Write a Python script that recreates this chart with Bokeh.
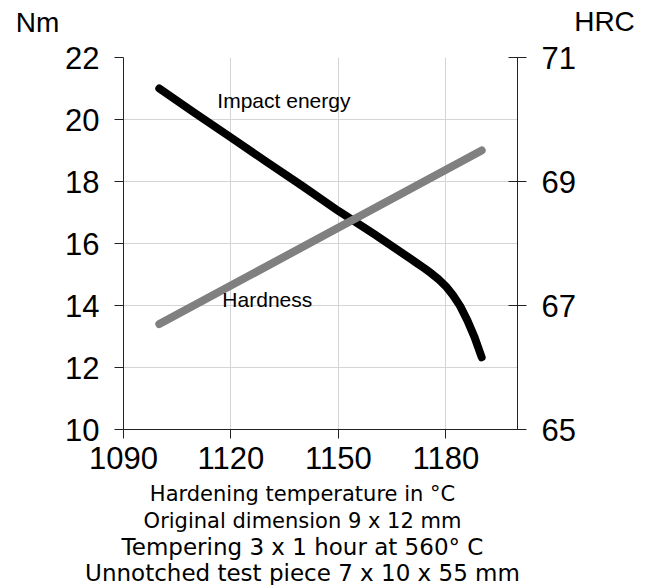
from bokeh.plotting import figure
from bokeh.models import Range1d, LinearAxis, FixedTicker, Label
from bokeh.layouts import column
from bokeh.core.properties import value
from bokeh.embed import file_html
from bokeh.resources import INLINE

# Data
temp_impact = [1100, 1110, 1120, 1130, 1140, 1150, 1160, 1170, 1172, 1174, 1176, 1178,
               1180, 1182, 1184, 1186, 1188, 1190]
impact_energy = [21.0, 20.2, 19.42, 18.63, 17.85, 17.05, 16.3, 15.52, 15.36, 15.2, 15.03, 14.84,
                 14.62, 14.33, 13.98, 13.52, 12.98, 12.33]
temp_hard = [1100, 1190]
hardness = [66.7, 69.5]
x_ticks = [1090, 1120, 1150, 1180]
y_ticks = [10, 12, 14, 16, 18, 20, 22]
hrc_ticks = [65, 67, 69, 71]
unit_labels = ["Nm", "HRC"]
title_lines = [
    "Hardening temperature in °C",
    "Original dimension 9 x 12 mm",
    "Tempering 3 x 1 hour at 560° C",
    "Unnotched test piece 7 x 10 x 55 mm",
]

W = 653
TOP_H = 40
MAIN_H = 442
BOT_H = 585 - TOP_H - MAIN_H


def blank(height, yr):
    f = figure(width=W, height=height, output_backend="svg", toolbar_location=None,
               x_range=Range1d(0, W), y_range=yr, min_border=0,
               x_axis_location=None, y_axis_location=None)
    f.frame_align = False
    f.grid.visible = False
    f.outline_line_color = None
    return f

# Header with unit labels
top = blank(TOP_H, Range1d(TOP_H, 0))
top.text(x=[37, 604], y=[22, 21], text=unit_labels, text_font=value("Liberation Sans"),
         text_font_size="28px", text_align="center", text_baseline="middle", text_color="black")

# Main chart
p = figure(width=W, height=MAIN_H, output_backend="svg", toolbar_location=None,
           x_range=Range1d(1090, 1200), y_range=Range1d(10, 22),
           min_border_left=123, min_border_right=W - 517, min_border_top=57 - TOP_H,
           min_border_bottom=TOP_H + MAIN_H - 429)
p.frame_align = False
p.outline_line_color = None
p.extra_y_ranges = {"hrc": Range1d(65, 71)}

tick_font = "Liberation Sans"
tick_size = "31px"

p.xaxis.ticker = FixedTicker(ticks=x_ticks)
p.yaxis.ticker = FixedTicker(ticks=y_ticks)
for ax in (p.xaxis[0], p.yaxis[0]):
    ax.major_label_text_font = tick_font
    ax.major_label_text_font_size = tick_size
    ax.major_label_text_color = "black"
    ax.axis_line_color = "#222222"
    ax.major_tick_line_color = "#222222"
    ax.minor_tick_line_color = None
    ax.major_tick_in = 0
    ax.major_tick_out = 9
p.xaxis.major_label_standoff = 8
p.yaxis.major_label_standoff = 15

right = LinearAxis(y_range_name="hrc", ticker=FixedTicker(ticks=hrc_ticks))
right.major_label_text_font = tick_font
right.major_label_text_font_size = tick_size
right.major_label_text_color = "black"
right.axis_line_color = "#222222"
right.major_tick_line_color = "#222222"
right.minor_tick_line_color = None
right.major_tick_in = 9
right.major_tick_out = 9
right.major_label_standoff = 15
p.add_layout(right, "right")

p.xgrid.ticker = FixedTicker(ticks=x_ticks)
p.ygrid.ticker = FixedTicker(ticks=y_ticks)
p.xgrid.grid_line_color = "#d4d4d4"
p.ygrid.grid_line_color = "#d4d4d4"

p.line(temp_impact, impact_energy, line_color="black", line_width=8, line_cap="round", line_join="round")
p.line(temp_hard, hardness, line_color="#808080", line_width=8, line_cap="round", y_range_name="hrc")

p.add_layout(Label(x=1116.2, y=20.61, text="Impact energy", text_font="Liberation Sans",
                   text_font_size="21px", text_baseline="middle", text_align="left", text_color="black"))
p.add_layout(Label(x=1117.6, y=14.19, text="Hardness", text_font="Liberation Sans",
                   text_font_size="21px", text_baseline="middle", text_align="left", text_color="black"))

# Footer with test conditions
bot = blank(BOT_H, Range1d(BOT_H, 0))
line_y = [11.7, 38, 64.3, 90]
line_sizes = ["21px", "21px", "23px", "23px"]
for txt, yy, sz in zip(title_lines, line_y, line_sizes):
    bot.text(x=[302], y=[yy], text=[txt], text_font=value("DejaVu Sans"),
             text_font_size=sz, text_align="center", text_baseline="middle", text_color="black")

layout = column(top, p, bot, spacing=0)
open("out.html", "w").write(file_html(layout, INLINE))
